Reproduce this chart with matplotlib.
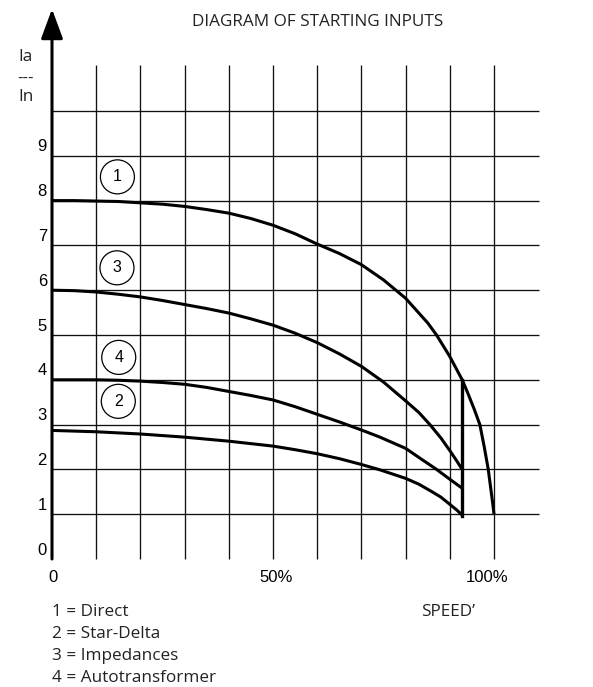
import matplotlib
matplotlib.use("Agg")
import matplotlib.pyplot as plt
from matplotlib.patches import Ellipse

# ---------------- data ----------------
speed_ticks = [0, 10, 20, 30, 40, 50, 60, 70, 80, 90, 100]       # % speed grid
ratio_ticks = [0, 1, 2, 3, 4, 5, 6, 7, 8, 9, 10]                  # Ia/In grid
y_tick_labels = ["0", "1", "2", "3", "4", "5", "6", "7", "8", "9"]
x_tick_values = [0, 50, 100]
x_tick_labels = ["0", "50%", "100%"]

# 1 = Direct
direct_x = [0, 5, 10, 15, 20, 25, 30, 35, 40, 45, 50, 55, 60, 65, 70, 75, 80, 85, 87,
            90, 92.8, 94, 95.5, 96.8, 97.8, 98.7, 99.3, 99.7, 100]
direct_y = [8.0, 8.0, 7.99, 7.98, 7.95, 7.92, 7.87, 7.8, 7.72, 7.6, 7.45, 7.26, 7.03, 6.82,
            6.57, 6.23, 5.82, 5.27, 5.0, 4.52, 4.0, 3.72, 3.35, 3.0, 2.5, 2.0, 1.55, 1.25, 1.0]
# 2 = Star-Delta
stardelta_x = [0, 10, 20, 30, 40, 50, 55, 60, 65, 70, 74.2, 80, 83, 86, 88, 90, 91.5, 92.8]
stardelta_y = [2.87, 2.84, 2.79, 2.72, 2.63, 2.52, 2.44, 2.35, 2.24, 2.11, 1.99, 1.8, 1.67,
               1.5, 1.38, 1.22, 1.1, 0.98]
# 3 = Impedances
imped_x = [0, 5, 10, 15, 20, 25, 30, 35, 40, 45, 50, 55, 60, 65, 70, 75, 80, 83, 85.5,
           88, 90, 91.5, 92.8]
imped_y = [6.0, 5.99, 5.96, 5.91, 5.85, 5.77, 5.68, 5.59, 5.49, 5.36, 5.22, 5.04, 4.83,
           4.58, 4.3, 3.95, 3.53, 3.27, 3.0, 2.7, 2.42, 2.2, 2.0]
# 4 = Autotransformer
auto_x = [0, 5, 10, 15, 20, 25, 30, 35, 40, 45, 50, 55, 60, 65, 70, 74.2, 80, 84, 87, 90, 92.8]
auto_y = [4.0, 4.0, 4.0, 3.99, 3.97, 3.94, 3.9, 3.83, 3.74, 3.65, 3.55, 3.4, 3.23, 3.06,
          2.88, 2.72, 2.47, 2.2, 2.0, 1.78, 1.58]
# switching step (vertical) at end of reduced-voltage start
switch_x = [92.8, 92.8]
switch_y = [0.96, 4.0]

curve_ids = ["1", "2", "3", "4"]
curve_names = ["Direct", "Star-Delta", "Impedances", "Autotransformer"]

# ---------------- layout (pixels -> data) ----------------
W, H = 593, 687
X0_PX, Y0_PX = 52, 559          # origin pixel
PX_PCT, PX_UNIT = 4.42, 44.8     # pixels per % speed / per Ia/In unit

fig = plt.figure(figsize=(W / 100, H / 100), dpi=100)
ax = fig.add_axes([0, 0, 1, 1])
ax.set_xlim(-X0_PX / PX_PCT, (W - X0_PX) / PX_PCT)
ax.set_ylim(-(H - Y0_PX) / PX_UNIT, Y0_PX / PX_UNIT)
ax.axis("off")

def px_x(p):
    return (p - X0_PX) / PX_PCT

def px_y(p):
    return (Y0_PX - p) / PX_UNIT

grid_kw = dict(color="#111111", lw=0.95, zorder=1)
grid_right = px_x(539)
grid_top = px_y(65)
ax.hlines(ratio_ticks[1:], 0, grid_right, **grid_kw)
ax.vlines(speed_ticks[1:], 0, grid_top, **grid_kw)

# axes with arrows
arrow_style = "-|>,head_length=1.3,head_width=0.48"
ax.annotate("", xy=(0, px_y(9)), xytext=(0, 0),
            arrowprops=dict(arrowstyle=arrow_style, lw=2.2, color="black",
                            mutation_scale=14, shrinkA=0, shrinkB=0), zorder=5)
ax.annotate("", xy=(px_x(594), 0), xytext=(0, 0),
            arrowprops=dict(arrowstyle=arrow_style, lw=2.2, color="black",
                            mutation_scale=14, shrinkA=0, shrinkB=0), zorder=5)

# curves
curve_kw = dict(color="black", lw=2.2, solid_capstyle="butt", solid_joinstyle="round", zorder=4)
ax.plot(direct_x, direct_y, **curve_kw)
ax.plot(stardelta_x, stardelta_y, **curve_kw)
ax.plot(imped_x, imped_y, **curve_kw)
ax.plot(auto_x, auto_y, **curve_kw)
ax.plot(switch_x, switch_y, color="black", lw=2.4, zorder=4)

# circled curve numbers
circle_pos = {"1": (14.8, 8.53), "2": (15.0, 3.52), "3": (14.7, 6.5), "4": (15.1, 4.5)}
r_px = 17
for cid in curve_ids:
    cx, cy = circle_pos[cid]
    ax.add_patch(Ellipse((cx, cy), 2 * r_px / PX_PCT, 2 * r_px / PX_UNIT,
                         facecolor="white", edgecolor="black", lw=0.9, zorder=6))
    ax.text(cx, cy, cid, ha="center", va="center", fontsize=11.5,
            family="Liberation Sans", zorder=7)

# tick labels
tick_font = dict(family="Liberation Sans", fontsize=12, color="black")
for v, lab in zip(ratio_ticks, y_tick_labels):
    ax.text(px_x(47), v + 0.2, lab, ha="right", va="center", **tick_font)
x_label_px = {0: 53, 50: 276, 100: 487}
for v, lab in zip(x_tick_values, x_tick_labels):
    ax.text(px_x(x_label_px[v]), px_y(577), lab, ha="center", va="center", **tick_font)

# texts in Frutiger-like font
txt_font = dict(family="Open Sans", fontsize=12.3, color="#222222")
ax.text(px_x(318), px_y(22), "DIAGRAM OF STARTING INPUTS", ha="center", va="center", **txt_font)
ax.text(px_x(18), px_y(57), "Ia", ha="left", va="center", **txt_font)
ax.text(px_x(17), px_y(78), "---", ha="left", va="center",
        family="Liberation Sans", fontsize=12, color="#222222")
ax.text(px_x(18), px_y(97), "In", ha="left", va="center", **txt_font)
ax.text(px_x(448), px_y(612), "SPEED\u2019", ha="center", va="center", **txt_font)

legend_y_px = [612, 634, 656, 678]
for cid, name, ypx in zip(curve_ids, curve_names, legend_y_px):
    ax.text(px_x(52), px_y(ypx), f"{cid} = {name}", ha="left", va="center", **txt_font)

fig.savefig("out.png", dpi=100)
